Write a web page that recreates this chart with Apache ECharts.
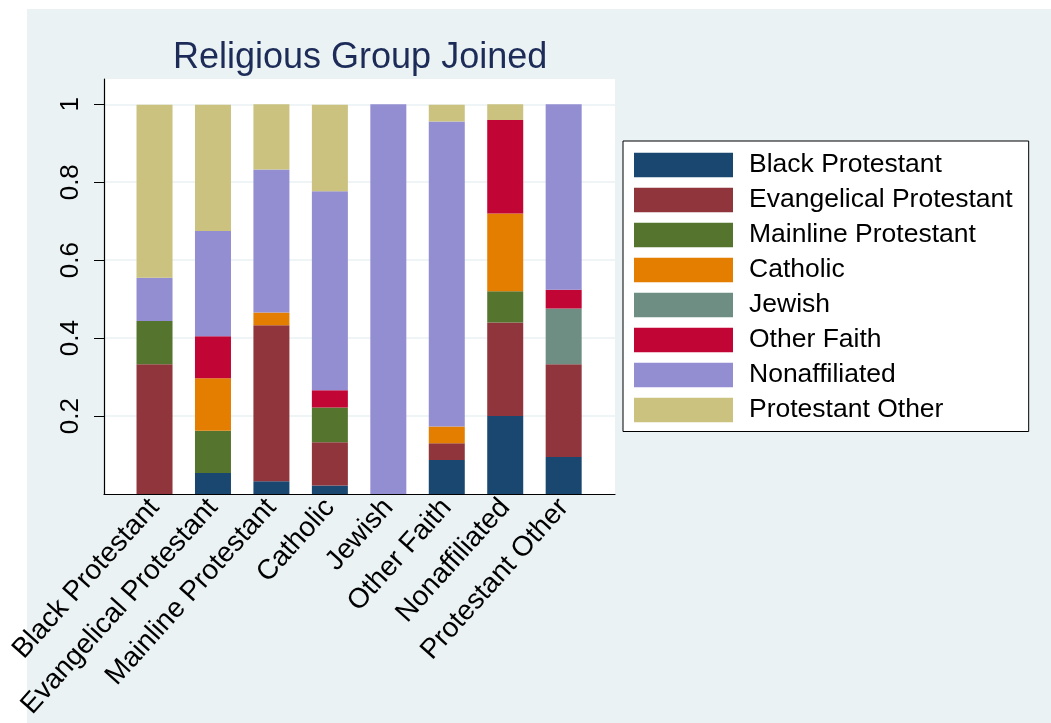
<!DOCTYPE html>
<html><head><meta charset="utf-8">
<script src="https://cdn.jsdelivr.net/npm/echarts@6/dist/echarts.min.js"></script>
<style>html,body{margin:0;padding:0;background:#fff}#c{width:1051px;height:723px}</style>
</head><body><div id="c"></div>
<script>
const categories = ['Black Protestant','Evangelical Protestant','Mainline Protestant','Catholic','Jewish','Other Faith','Nonaffiliated','Protestant Other'];
const seriesNames = ['Black Protestant','Evangelical Protestant','Mainline Protestant','Catholic','Jewish','Other Faith','Nonaffiliated','Protestant Other'];
const blackProtestant       = [0,     0.054, 0.033, 0.022, 0, 0.087, 0.20, 0.095];
const evangelicalProtestant = [0.333, 0,     0.400, 0.111, 0, 0.043, 0.24, 0.238];
const mainlineProtestant    = [0.111, 0.108, 0,     0.089, 0, 0,     0.08, 0];
const catholic              = [0,     0.135, 0.033, 0,     0, 0.043, 0.20, 0];
const jewish                = [0,     0,     0,     0,     0, 0,     0,    0.143];
const otherFaith            = [0,     0.108, 0,     0.044, 0, 0,     0.24, 0.048];
const nonaffiliated         = [0.111, 0.270, 0.367, 0.511, 1, 0.783, 0,    0.476];
const protestantOther       = [0.444, 0.324, 0.167, 0.222, 0, 0.043, 0.04, 0];
const yTicks = [0.2, 0.4, 0.6, 0.8, 1];
const colors = ['#1a476f','#90353b','#55752f','#e37e00','#6e8e84','#c10534','#938dd2','#cac27e'];

const values = [blackProtestant, evangelicalProtestant, mainlineProtestant, catholic, jewish, otherFaith, nonaffiliated, protestantOther];
const FONT = 'Liberation Sans, Arial, sans-serif';

const chart = echarts.init(document.getElementById('c'), null, {renderer:'canvas'});
chart.setOption({
  backgroundColor: '#eaf2f3',
  animation: false,
  graphic: [
    {type:'rect', shape:{x:0,y:0,width:1051,height:9}, style:{fill:'#fff'}, silent:true},
    {type:'rect', shape:{x:0,y:0,width:27,height:723}, style:{fill:'#fff'}, silent:true}
  ],
  title: {
    text: 'Religious Group Joined',
    left: 173, top: 40, padding: 0,
    textStyle: {fontFamily: FONT, fontSize: 36, fontWeight: 'normal', color: '#1c2b57'}
  },
  legend: {
    orient: 'vertical',
    left: 623, top: 141,
    padding: [10.5, 16, 8, 11],
    backgroundColor: '#fff',
    borderColor: '#000', borderWidth: 1, borderRadius: 0,
    itemWidth: 99, itemHeight: 24.3, itemGap: 8.0,
    icon: 'rect',
    data: seriesNames,
    textStyle: {fontFamily: FONT, fontSize: 26.5, color: '#000', padding: [0,0,0,11]}
  },
  grid: [
    {left: 104, top: 79, width: 511, height: 415, show: true, backgroundColor: '#fff', borderWidth: 0},
    {left: 104, top: 104.3, width: 511, height: 389.7},
    {left: 125.3, top: 104.3, width: 467.6, height: 389.7}
  ],
  xAxis: [
    {gridIndex: 0, type: 'value', min: 0, max: 1,
     axisLine: {show: true, onZero: false, lineStyle: {color: '#000', width: 1.2}},
     axisTick: {show: false}, axisLabel: {show: false}, splitLine: {show: false}},
    {gridIndex: 1, type: 'value', min: 0, max: 1, show: false},
    {gridIndex: 2, type: 'category', data: categories,
     axisLine: {show: false}, axisTick: {show: false}, splitLine: {show: false},
     axisLabel: {interval: 0, rotate: 48, margin: 9, fontFamily: FONT, fontSize: 28, color: '#000'}}
  ],
  yAxis: [
    {gridIndex: 0, type: 'value', min: 0, max: 1,
     axisLine: {show: true, onZero: false, lineStyle: {color: '#000', width: 1.2}},
     axisTick: {show: false}, axisLabel: {show: false}, splitLine: {show: false}},
    {gridIndex: 1, type: 'value', min: 0, max: 1, interval: 0.2,
     axisLine: {show: false},
     axisTick: {show: true, length: 10, customValues: yTicks, lineStyle: {color: '#000', width: 1}},
     axisLabel: {rotate: 90, margin: 20, customValues: yTicks, fontFamily: FONT, fontSize: 26, color: '#000'},
     splitLine: {show: true, lineStyle: {color: '#eaf2f3', width: 1.5}}},
    {gridIndex: 2, type: 'value', min: 0, max: 1, show: false}
  ],
  series: seriesNames.map((name, i) => ({
    name: name,
    type: 'bar',
    stack: 'total',
    xAxisIndex: 2, yAxisIndex: 2,
    barWidth: 36,
    itemStyle: {color: colors[i]},
    data: values[i]
  }))
});
</script></body></html>
